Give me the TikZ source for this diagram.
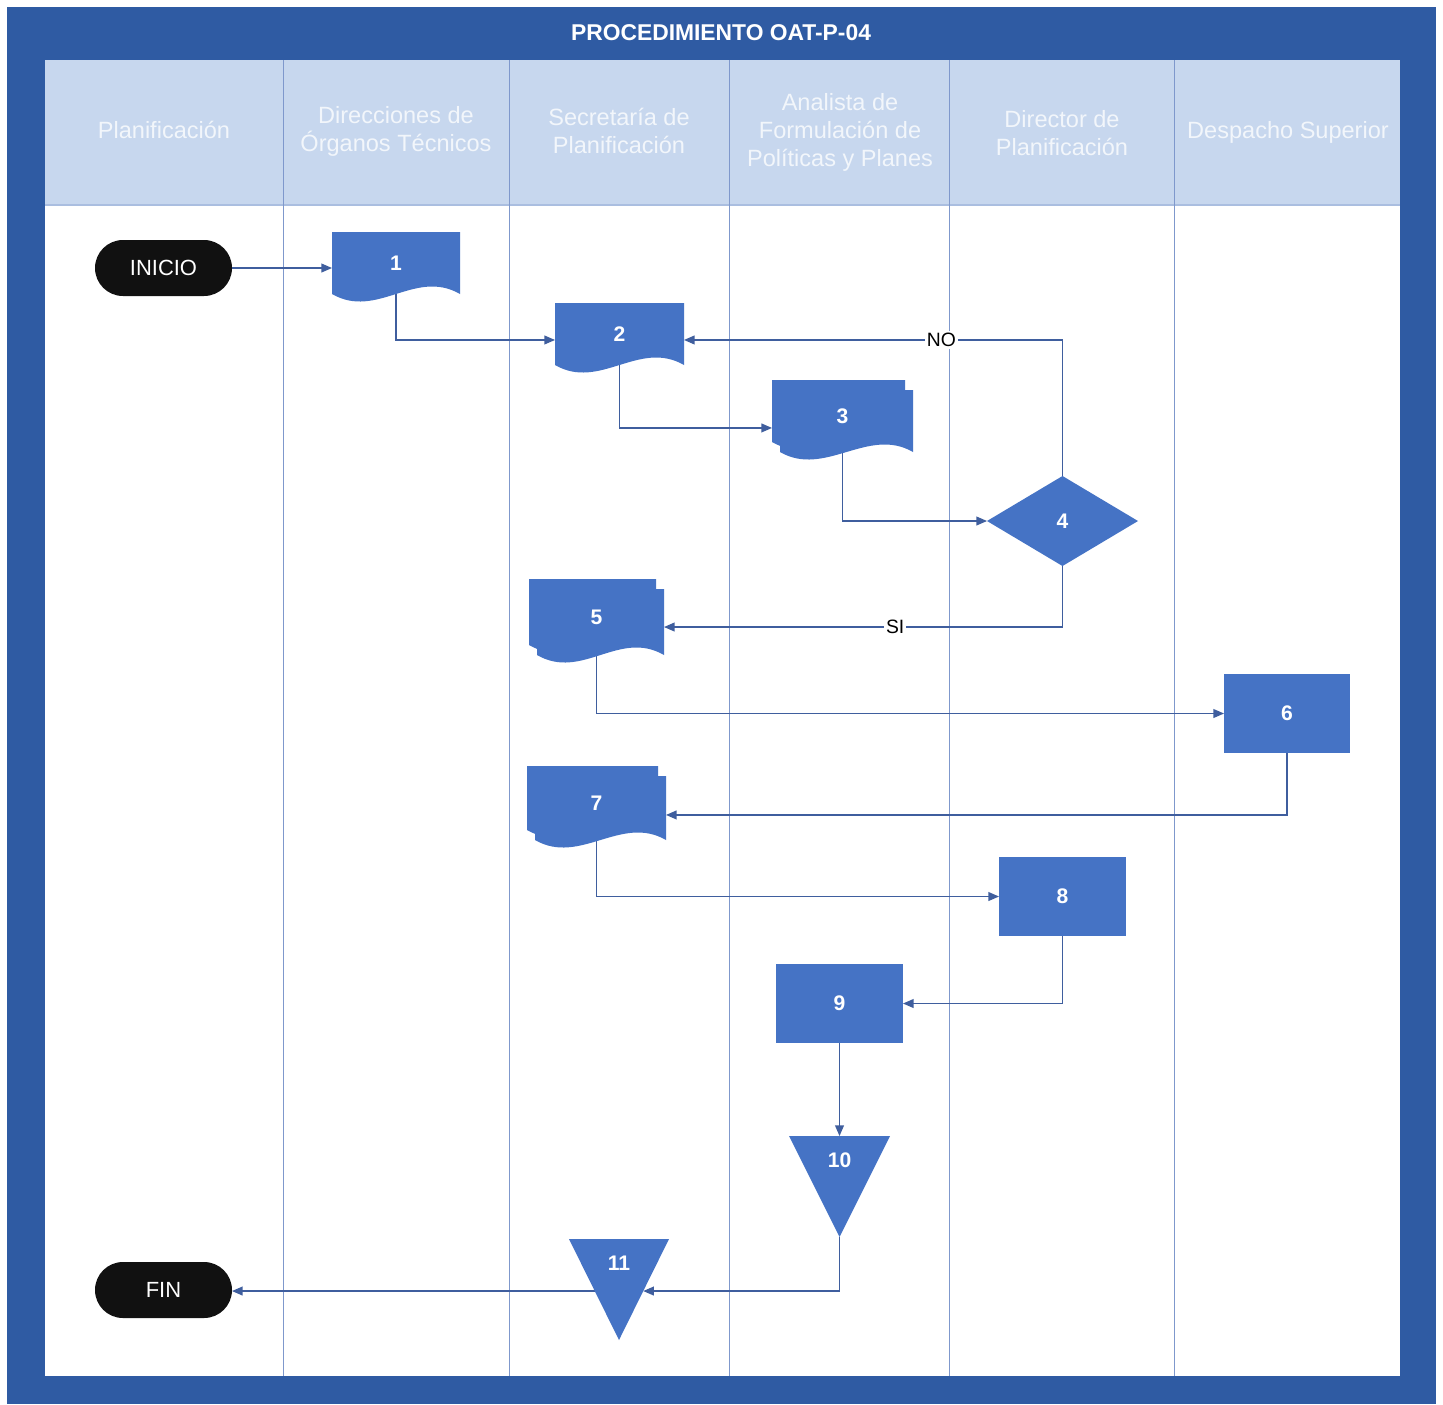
\documentclass[tikz,border=0pt]{standalone}
\usepackage{fontspec}
\setmainfont{Liberation Sans}
\usetikzlibrary{calc,arrows.meta}
\pgfdeclarelayer{lanes}
\pgfdeclarelayer{links}
\pgfdeclarelayer{shapes}
\pgfsetlayers{lanes,links,shapes,main}

\definecolor{frameblue}{HTML}{2F5BA3}
\definecolor{headblue}{HTML}{C7D7EE}
\definecolor{headtext}{HTML}{F2F6FB}
\definecolor{shapeblue}{HTML}{4573C5}
\definecolor{laneline}{HTML}{7F98CC}
\definecolor{linkblue}{HTML}{3F5E9E}
\definecolor{termblack}{HTML}{111111}

% single document: straight top and sides, wavy bottom below the node
\newcommand\docfill[1]{%
  \fill[shapeblue] (#1.north west) -- (#1.north east) -- (#1.south east)
    .. controls +(-45,-26) and +(45,26) .. (#1.south west) -- cycle;}
% stacked documents: a back sheet offset to the lower right
\newcommand\multidocfill[1]{%
  \fill[shapeblue] ([shift={(8,10)}]#1.north west) -- ([shift={(0,10)}]#1.north east)
    -- (#1.south east) .. controls +(-45,-26) and +(45,26) .. ([shift={(8,0)}]#1.south west) -- cycle;
  \fill[shapeblue] (#1.north west) -- ([shift={(-8,0)}]#1.north east)
    -- ([shift={(-8,-10)}]#1.south east) .. controls +(-45,-26) and +(45,26)
    .. ([shift={(0,-10)}]#1.south west) -- cycle;}
\newcommand\diamondfill[1]{%
  \fill[shapeblue] (#1.north) -- (#1.east) -- (#1.south) -- (#1.west) -- cycle;}
\newcommand\trianglefill[1]{%
  \fill[shapeblue] (#1.north west) -- (#1.north east) -- (#1.south) -- cycle;}

\begin{document}
\begin{tikzpicture}[x=0.02cm, y=-0.02cm,
  sz/.style 2 args={minimum width=#1*0.02cm, minimum height=#2*0.02cm},
  box/.style={rectangle, inner sep=0pt, outer sep=0pt, text=white,
    font=\fontsize{12}{14}\selectfont\bfseries},
  procbox/.style={box, fill=shapeblue},
  term/.style={rectangle, rounded corners=0.56cm, fill=termblack, text=white,
    inner sep=0pt, outer sep=0pt, sz={137}{56}, font=\fontsize{12.5}{14}\selectfont},
  numtext/.style={text=white, inner sep=0pt, font=\fontsize{12}{14}\selectfont\bfseries},
  lanehead/.style={text=headtext, align=center, inner sep=0pt,
    font=\fontsize{13.4}{15.9}\selectfont},
  link/.style={draw=linkblue, line width=0.7pt, -{Triangle[length=6pt,width=5pt]}},
  answer/.style={fill=white, text=black, inner sep=1pt, font=\fontsize{11}{13}\selectfont},
]
\useasboundingbox (0,0) rectangle (1443,1404);

% ---- frame, header and swimlanes ----
\begin{pgfonlayer}{lanes}
  \fill[white] (0,0) rectangle (1443,1404);
  \fill[frameblue] (7,7) rectangle (1436,1404);
  \fill[headblue] (45,60) rectangle (1400,205);
  \fill[white] (45,205) rectangle (1400,1376);
  \draw[color=headblue!60!laneline, line width=0.9pt] (45,205) -- (1400,205);
  \foreach \lx in {283,509,729,949,1174}
    \draw[laneline, line width=0.5pt] (\lx,60) -- (\lx,1376);
\end{pgfonlayer}

\node[text=white, inner sep=0pt, font=\fontsize{13}{15}\selectfont\bfseries] (title)
  at (721,33) {PROCEDIMIENTO OAT-P-04};

\node[lanehead] (h1) at (164,130) {Planificación};
\node[lanehead] (h2) at (396,131) {Direcciones de\\Órganos Técnicos};
\node[lanehead] (h3) at (619,131) {Secretaría de\\Planificación};
\node[lanehead] (h4) at (840,132) {Analista de\\Formulación de\\Políticas y Planes};
\node[lanehead] (h5) at (1062,133) {Director de\\Planificación};
\node[lanehead] (h6) at (1288,132) {Despacho Superior};

% ---- flow nodes ----
\node[term] (ini) at (163.5,268) {INICIO};
\node[term] (fin) at (163.5,1290) {FIN};

\node[box, sz={128}{62}] (n1) at (396,263) {1};
\node[box, sz={129}{62}] (n2) at (619.5,334) {2};
\node[box, sz={141}{72}] (n3) at (842.5,416) {3};
\node[box, sz={151}{90}] (n4) at (1062.5,521) {4};
\node[box, sz={135}{76}] (n5) at (596.5,617) {5};
\node[procbox, sz={126}{79}] (n6) at (1287,713.5) {6};
\node[box, sz={139}{74}] (n7) at (596.5,803) {7};
\node[procbox, sz={127}{79}] (n8) at (1062.5,896.5) {8};
\node[procbox, sz={127}{79}] (n9) at (839.5,1003.5) {9};
\node[box, sz={101}{101}] (n10) at (839.5,1186.5) {};
\node[box, sz={100}{101}] (n11) at (619,1289.5) {};
\node[numtext] (t10) at ([yshift=-13.6pt]n10.north) {10};
\node[numtext] (t11) at ([yshift=-14pt]n11.north) {11};

\coordinate (p11r) at ($(n11.north east)!0.515!(n11.south)$);
\coordinate (p11l) at ($(n11.north west)!0.515!(n11.south)$);

\begin{pgfonlayer}{shapes}
  \docfill{n1}
  \docfill{n2}
  \multidocfill{n3}
  \diamondfill{n4}
  \multidocfill{n5}
  \multidocfill{n7}
  \trianglefill{n10}
  \trianglefill{n11}
\end{pgfonlayer}

% ---- connectors ----
\begin{pgfonlayer}{links}
  \draw[link] (ini.east) -- (ini.east -| n1.west);
  \draw[link] (n1.center) |- ([yshift=-3.4pt]n2.west);
  \draw[link] (n4.north) |- node[answer, pos=0.66] (no) {NO} ([yshift=-3.4pt]n2.east);
  \draw[link] (n2.center) |- ([yshift=-6.8pt]n3.west);
  \draw[link] (n3.center) |- (n4.west);
  \draw[link] (n4.south) |- node[answer, pos=0.71] (si) {SI} ([yshift=-5.7pt]n5.east);
  \draw[link] (n5.center) |- (n6.west);
  \draw[link] (n6.south) |- ([yshift=-6.8pt]n7.east);
  \draw[link] (n7.center) |- (n8.west);
  \draw[link] (n8.south) |- (n9.east);
  \draw[link] (n9.south) -- (n10.north);
  \draw[link] (n10.south) |- (p11r);
  \draw[link] (p11l) -- (p11l -| fin.east);
\end{pgfonlayer}
\end{tikzpicture}
\end{document}
